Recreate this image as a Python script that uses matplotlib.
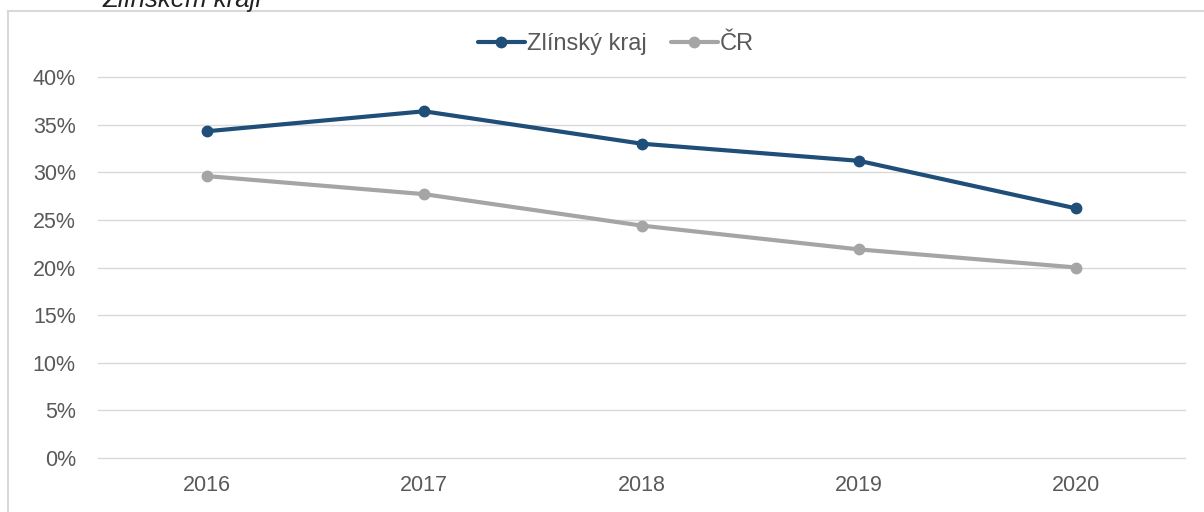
import matplotlib
matplotlib.use('Agg')
import matplotlib.pyplot as plt
from matplotlib.lines import Line2D
from matplotlib.ticker import FuncFormatter

plt.rcParams['font.family'] = ['Liberation Sans', 'DejaVu Sans']

# data
roky = ['2016', '2017', '2018', '2019', '2020']
zlin = [34.3, 36.4, 33.0, 31.2, 26.2]
cr = [29.6, 27.7, 24.4, 21.9, 20.0]
nazvy = ['Zlínský kraj', 'ČR']
barvy = ['#1F4E79', '#A5A5A5']

W, H = 1204, 512
fig = plt.figure(figsize=(W / 100, H / 100), dpi=100)

# ramecek grafu (oriznuty vpravo a dole)
fig.add_artist(Line2D([8 / W, 1], [1 - 11 / H, 1 - 11 / H], color='#D9D9D9', lw=1.5))
fig.add_artist(Line2D([8 / W, 8 / W], [0, 1 - 11 / H], color='#D9D9D9', lw=1.5))

# oriznuty titulek nahore (v originale je taky oriznuty)
fig.text(103 / W, 1 - 7 / H, 'Zlínském kraji', fontsize=18.5, style='italic',
         color='#222222', ha='left', va='baseline')

ax = fig.add_axes([98 / W, 1 - 458 / H, (1185 - 98) / W, (458 - 77) / H])
x = range(len(roky))
for vals, name, c in zip([zlin, cr], nazvy, barvy):
    ax.plot(x, vals, color=c, lw=3, marker='o', markersize=7.5, label=name,
            solid_capstyle='round', zorder=3)

ax.set_xlim(-0.5, len(roky) - 0.5)
ax.set_ylim(0, 40)
ax.set_yticks(range(0, 41, 5))
ax.yaxis.set_major_formatter(FuncFormatter(lambda v, p: '%d%%' % v))
ax.set_xticks(list(x))
ax.set_xticklabels(roky)
ax.grid(axis='y', color='#D9D9D9', lw=1)
for gl in ax.get_ygridlines():
    gl.set_clip_on(False)
ax.set_axisbelow(True)
for s in ax.spines.values():
    s.set_visible(False)
ax.tick_params(length=0, labelsize=15.5, labelcolor='#595959', pad=16)
ax.tick_params(axis='x', pad=12)

leg = fig.legend(loc='center', bbox_to_anchor=(616 / W, 1 - 44 / H), ncol=2,
                 frameon=False, fontsize=17, handlelength=2.0, handletextpad=0.1,
                 columnspacing=1.0)
for t in leg.get_texts():
    t.set_color('#595959')

fig.savefig('out.png', dpi=100)
